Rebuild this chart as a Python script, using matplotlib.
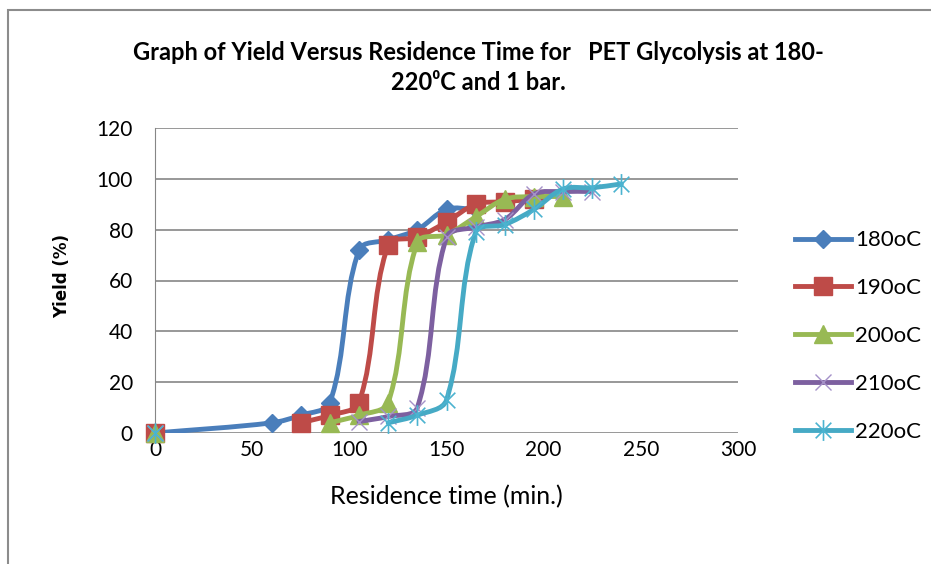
import matplotlib
matplotlib.use("Agg")
import numpy as np
import matplotlib.pyplot as plt
from matplotlib.path import Path
from matplotlib.patches import PathPatch, Rectangle
from matplotlib.lines import Line2D

# data
t_180 = [0, 60, 75, 90, 105, 120, 135, 150, 165]
y_180 = [0, 4, 7, 12, 72, 76, 80, 88, 88]
t_190 = [0, 75, 90, 105, 120, 135, 150, 165, 180, 195]
y_190 = [0, 4, 7, 12, 74, 77, 83, 90, 91, 92]
t_200 = [0, 90, 105, 120, 135, 150, 165, 180, 195, 210]
y_200 = [0, 4, 7, 12, 75, 78, 85, 92, 93, 93]
t_210 = [0, 105, 120, 135, 150, 165, 180, 195, 210, 225]
y_210 = [0, 4.5, 6.5, 10, 77, 81, 84, 94, 95, 95]
t_220 = [0, 120, 135, 150, 165, 180, 195, 210, 225, 240]
y_220 = [0, 4, 7, 13, 79, 82, 88, 96, 96.5, 98]
labels = ["180oC", "190oC", "200oC", "210oC", "220oC"]
# the 180oC series is joined from t=0, the others start their line at the second point
joined_from_zero = [True, False, False, False, False]

colors = ["#4A7EBB", "#BE4B48", "#98B954", "#7D60A0", "#46AAC5"]

FONT = ["Lato", "DejaVu Sans"]
plt.rcParams["font.family"] = FONT

star = Path([(0, -1), (0, 1), (-0.75, -0.75), (0.75, 0.75), (-0.75, 0.75), (0.75, -0.75)],
            [Path.MOVETO, Path.LINETO, Path.MOVETO, Path.LINETO, Path.MOVETO, Path.LINETO])

styles = [
    dict(marker="D", ms=9.5, mfc=colors[0], mec=colors[0], mew=1),
    dict(marker="s", ms=13.5, mfc=colors[1], mec=colors[1], mew=1),
    dict(marker="^", ms=13, mfc=colors[2], mec=colors[2], mew=1),
    dict(marker="x", ms=12, mfc="none", mec="#A591C8", mew=1.0),
    dict(marker=star, ms=15, mfc="none", mec="#4BB3D0", mew=1.2),
]

# approx pixels per data unit, so smoothing is done in screen-like space
SX, SY = 583 / 300, 305 / 120


def smooth_path(xs, ys, k=0.33):
    # Excel-like smoothed line: cubic bezier with tangents scaled by segment length
    p = np.column_stack([np.asarray(xs, float) * SX, np.asarray(ys, float) * SY])
    n = len(p)
    d = np.zeros_like(p)
    for i in range(n):
        a = p[max(i - 1, 0)]
        b = p[min(i + 1, n - 1)]
        v = b - a
        d[i] = v / np.hypot(*v)
    verts = [p[0]]
    codes = [Path.MOVETO]
    for i in range(n - 1):
        L = np.hypot(*(p[i + 1] - p[i]))
        verts += [p[i] + d[i] * L * k, p[i + 1] - d[i + 1] * L * k, p[i + 1]]
        codes += [Path.CURVE4] * 3
    verts = np.array(verts) / [SX, SY]
    return Path(verts, codes)


fig = plt.figure(figsize=(9.31, 5.64), dpi=100)
ax = fig.add_axes([155 / 931, 1 - 433 / 564, 583 / 931, 305 / 564])

series = [(t_180, y_180), (t_190, y_190), (t_200, y_200), (t_210, y_210), (t_220, y_220)]
handles = []
for i, (t, y) in enumerate(series):
    start = 0 if joined_from_zero[i] else 1
    ax.add_patch(PathPatch(smooth_path(t[start:], y[start:]), fill=False, edgecolor=colors[i],
                           lw=3.5, capstyle="round", joinstyle="round", zorder=3 + i))
    ax.plot(t, y, linestyle="none", zorder=3 + i, clip_on=False, **styles[i])
    handles.append(Line2D([], [], color=colors[i], lw=3.5, **styles[i]))

ax.set_xlim(0, 300)
ax.set_ylim(0, 120)
ax.set_xticks(range(0, 301, 50))
ax.set_yticks(range(0, 121, 20))
ax.grid(axis="y", color="#868686", lw=1.2)
ax.set_axisbelow(True)
for s in ["top", "right", "bottom"]:
    ax.spines[s].set_visible(False)
ax.spines["left"].set_color("#868686")
ax.tick_params(length=0, labelsize=15, colors="black")
ax.tick_params(axis="y", pad=16)
ax.tick_params(axis="x", pad=5)

ax.set_xlabel("Residence time (min.)", fontsize=18, labelpad=18)
fig.text(62 / 931, 1 - 276 / 564, "Yield (%)", rotation=90, ha="center", va="center",
         fontsize=12, fontweight="bold", family="DejaVu Sans")

fig.text(478 / 931, 1 - 52 / 564, "Graph of Yield Versus Residence Time for   PET Glycolysis at 180-",
         ha="center", va="center", fontsize=17, fontweight="bold")
fig.text(478 / 931, 1 - 83 / 564, "220\u2070C and 1 bar.", ha="center", va="center",
         fontsize=17, fontweight="bold")

ax.legend(handles, labels, loc="center left", bbox_to_anchor=(795 / 931, 1 - 336 / 564),
          bbox_transform=fig.transFigure, frameon=False, fontsize=16, handlelength=2.5,
          handletextpad=0.2, labelspacing=1.25, borderpad=0, borderaxespad=0)

fig.add_artist(Rectangle((8 / 931, -0.1), 1.2, 1.1 - 10 / 564, transform=fig.transFigure,
                         fill=False, edgecolor="#8C8C8C", lw=1.5))

fig.savefig("out.png", dpi=100)
